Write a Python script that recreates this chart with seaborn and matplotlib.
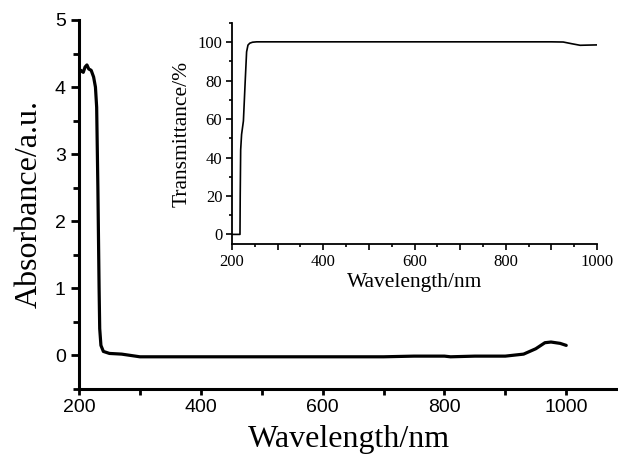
import numpy as np
import pandas as pd
import matplotlib
matplotlib.use("Agg")
import matplotlib.pyplot as plt
from matplotlib.ticker import MultipleLocator
import seaborn as sns

# absorbance spectrum (main panel)
abs_wl = [200, 203, 207, 210, 213, 216, 220, 224, 227, 229, 231, 233, 234, 236, 240,
          250, 270, 300, 400, 500, 600, 700, 750, 800, 810, 850, 900, 930, 950, 965,
          975, 990, 1000]
abs_val = [4.20, 4.25, 4.22, 4.30, 4.33, 4.27, 4.25, 4.15, 4.00, 3.70, 2.50, 1.00, 0.40,
           0.15, 0.06, 0.03, 0.02, -0.02, -0.02, -0.02, -0.02, -0.02, -0.01, -0.01,
           -0.02, -0.01, -0.01, 0.02, 0.10, 0.19, 0.20, 0.18, 0.15]

# transmittance spectrum (inset)
tr_wl = [200, 217.5, 218, 219, 221, 225, 229, 232, 235, 239, 245, 254, 300, 500, 700,
         900, 926, 945, 963, 980, 1000]
tr_val = [0, 0, 20, 44, 52, 59, 80, 95, 98.5, 99.5, 100, 100.2, 100.2, 100.2, 100.2,
          100.2, 100.1, 99.2, 98.4, 98.5, 98.6]

df_abs = pd.DataFrame({"wl": abs_wl, "val": abs_val})
df_tr = pd.DataFrame({"wl": tr_wl, "val": tr_val})

sns.set_style("ticks", {"axes.edgecolor": "black", "text.color": "black",
                        "axes.labelcolor": "black", "xtick.color": "black",
                        "ytick.color": "black"})
serif = ["Liberation Serif", "DejaVu Serif"]
sans = ["Liberation Sans", "DejaVu Sans"]

fig = plt.figure(figsize=(6.18, 4.54), dpi=100)

# main axes
ax = fig.add_axes([79 / 618, 65 / 454, (618 - 79) / 618, 369 / 454])
sns.lineplot(data=df_abs, x="wl", y="val", ax=ax, color="black", linewidth=2.3,
             estimator=None, sort=False)
ax.set_xlim(200, 1085)
ax.set_ylim(-0.5, 5)
ax.xaxis.set_minor_locator(MultipleLocator(100))
ax.yaxis.set_major_locator(MultipleLocator(1))
ax.yaxis.set_minor_locator(MultipleLocator(0.5))
ax.set_xticks([200, 400, 600, 800, 1000])
for s in ["top", "right"]:
    ax.spines[s].set_visible(False)
for s in ["left", "bottom"]:
    ax.spines[s].set_linewidth(2.2)
ax.tick_params(axis="y", which="major", length=6, width=2, direction="out")
ax.tick_params(axis="y", which="minor", length=4, width=2, direction="out")
ax.tick_params(axis="x", which="both", length=4, width=2, direction="out")
for lab in ax.get_xticklabels() + ax.get_yticklabels():
    lab.set_family(sans)
    lab.set_fontsize(14)
ax.set_xlabel("Wavelength/nm", family=serif, fontsize=23, labelpad=6)
ax.set_ylabel("Absorbance/a.u.", family=serif, fontsize=23, labelpad=8)

# inset axes
ins = fig.add_axes([232 / 618, 210 / 454, 365 / 618, 221 / 454])
sns.lineplot(data=df_tr, x="wl", y="val", ax=ins, color="black", linewidth=1.2,
             estimator=None, sort=False)
ins.set_xlim(200, 1000)
ins.set_ylim(-5, 110)
ins.xaxis.set_minor_locator(MultipleLocator(50))
ins.yaxis.set_minor_locator(MultipleLocator(10))
ins.set_xticks([200, 300, 400, 500, 600, 700, 800, 900, 1000])
ins.set_xticklabels(["200", "", "400", "", "600", "", "800", "", "1000"])
ins.set_yticks([0, 20, 40, 60, 80, 100])
ins.patch.set_alpha(0)
for s in ["top", "right"]:
    ins.spines[s].set_visible(False)
for s in ["left", "bottom"]:
    ins.spines[s].set_linewidth(1.3)
ins.tick_params(which="major", length=4, width=1.2, direction="out", pad=3)
ins.tick_params(which="minor", length=2.5, width=1.2, direction="out")
for lab in ins.get_xticklabels() + ins.get_yticklabels():
    lab.set_family(serif)
    lab.set_fontsize(12)
ins.set_xlabel("Wavelength/nm", family=serif, fontsize=15.5, labelpad=2)
ins.set_ylabel("Transmittance/%", family=serif, fontsize=15.5, labelpad=4)

fig.savefig("out.png", dpi=100)
